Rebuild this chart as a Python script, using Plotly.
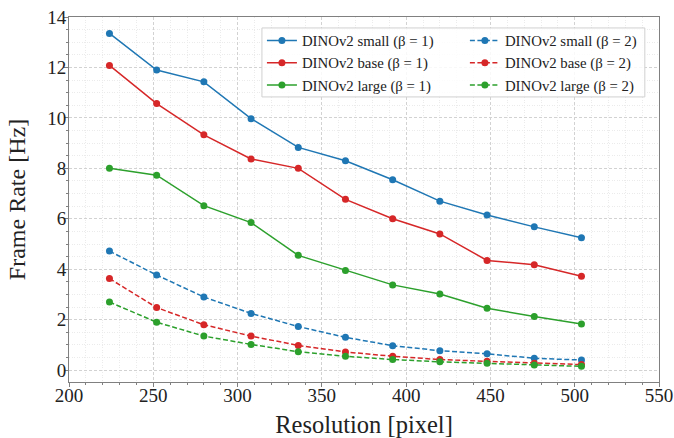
import plotly.graph_objects as go

resolution = [224, 252, 280, 308, 336, 364, 392, 420, 448, 476, 504]

small_b1 = [13.35, 11.90, 11.43, 9.97, 8.83, 8.30, 7.55, 6.70, 6.15, 5.68, 5.25]
base_b1 = [12.08, 10.57, 9.33, 8.37, 8.00, 6.77, 6.00, 5.40, 4.35, 4.18, 3.72]
large_b1 = [8.00, 7.73, 6.52, 5.85, 4.55, 3.95, 3.38, 3.02, 2.45, 2.13, 1.83]
small_b2 = [4.72, 3.77, 2.90, 2.25, 1.73, 1.30, 0.97, 0.77, 0.65, 0.47, 0.40]
base_b2 = [3.63, 2.48, 1.80, 1.35, 0.98, 0.72, 0.55, 0.42, 0.35, 0.27, 0.22]
large_b2 = [2.70, 1.90, 1.35, 1.02, 0.73, 0.55, 0.42, 0.33, 0.27, 0.20, 0.15]

series = [
    ("DINOv2 small (β = 1)", small_b1, "#1f77b4", "solid", "legend"),
    ("DINOv2 base (β = 1)", base_b1, "#d62728", "solid", "legend"),
    ("DINOv2 large (β = 1)", large_b1, "#2ca02c", "solid", "legend"),
    ("DINOv2 small (β = 2)", small_b2, "#1f77b4", "5px,2.5px", "legend2"),
    ("DINOv2 base (β = 2)", base_b2, "#d62728", "5px,2.5px", "legend2"),
    ("DINOv2 large (β = 2)", large_b2, "#2ca02c", "5px,2.5px", "legend2"),
]

FONT = "Liberation Serif, Times New Roman, serif"

fig = go.Figure()
for name, vals, color, dash, leg in series:
    fig.add_trace(go.Scatter(
        x=resolution, y=vals, name=name, mode="lines+markers",
        line=dict(color=color, width=1.5, dash=dash),
        marker=dict(color=color, size=7),
        legend=leg,
    ))

axis_common = dict(
    showline=True, mirror=True, linecolor="#808080", linewidth=1,
    ticks="outside", ticklen=4, tickwidth=1, tickcolor="#808080",
    showgrid=True, gridcolor="#d2d2d2", griddash="3px,2px", gridwidth=0.8,
    zeroline=False, automargin=False,
    tickfont=dict(family=FONT, size=19, color="#222"),
)

fig.update_xaxes(
    range=[200, 550], tick0=200, dtick=50,
    ticklabelstandoff=-8,
    minor=dict(dtick=10, ticks="outside", ticklen=2, tickcolor="#808080",
               showgrid=True, gridcolor="#ebebeb", griddash="1px,1.5px", gridwidth=0.8),
    title=dict(text="Resolution [pixel]", font=dict(family=FONT, size=24.5, color="#222"), standoff=14),
    **axis_common,
)
fig.update_yaxes(
    range=[-0.47, 14], tick0=0, dtick=2,
    ticklabelstandoff=-6,
    minor=dict(dtick=0.5, ticks="outside", ticklen=2, tickcolor="#808080",
               showgrid=True, gridcolor="#ebebeb", griddash="1px,1.5px", gridwidth=0.8),
    title=dict(text="Frame Rate [Hz]", font=dict(family=FONT, size=24, color="#222"), standoff=14),
    **axis_common,
)

legend_common = dict(
    font=dict(family=FONT, size=14.8, color="#222"),
    bgcolor="rgba(0,0,0,0)", borderwidth=0,
    xanchor="left", yanchor="top", tracegroupgap=0,
)

fig.update_layout(
    width=674, height=438,
    margin=dict(l=69, r=15, t=17, b=56),
    paper_bgcolor="white", plot_bgcolor="white",
    showlegend=True,
    legend=dict(x=0.327, y=0.98, **legend_common),
    legend2=dict(x=0.671, y=0.98, **legend_common),
    shapes=[dict(
        type="rect", xref="paper", yref="paper",
        x0=0.327, x1=0.976, y0=0.781, y1=0.970,
        line=dict(color="#d0d0d0", width=1),
        fillcolor="rgba(255,255,255,0.85)", layer="above",
    )],
)

fig.write_html(
    "out.html",
    config={"displayModeBar": False},
    post_script="document.body.style.margin='0';document.body.style.overflow='hidden';",
)
